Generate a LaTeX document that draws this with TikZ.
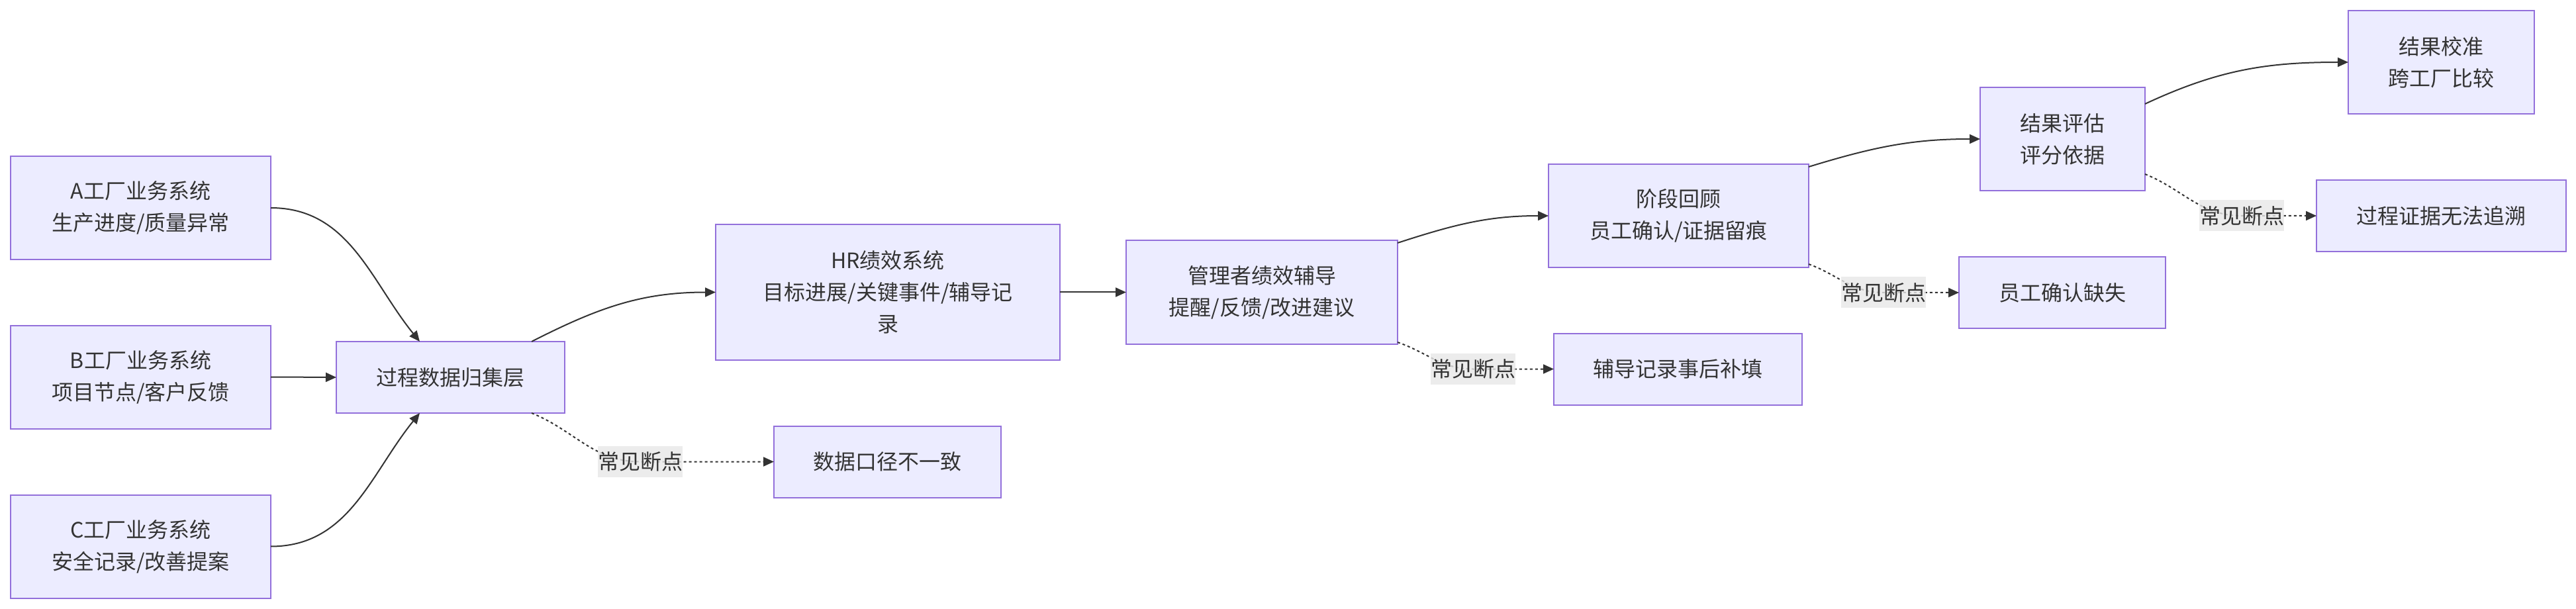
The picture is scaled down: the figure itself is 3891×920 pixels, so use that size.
\documentclass[tikz,border=0pt]{standalone}
\usepackage{fontspec}
\setmainfont{Noto Sans CJK SC}
\usetikzlibrary{arrows.meta}
\definecolor{nodefill}{HTML}{ECECFF}
\definecolor{nodeline}{HTML}{9370DB}
\definecolor{txt}{HTML}{333333}
\definecolor{lblbg}{HTML}{E8E8E8}
\begin{document}
\begin{tikzpicture}[x=0.25pt,y=0.25pt,
  box/.style 2 args={draw=nodeline, fill=nodefill, line width=0.5pt, inner sep=0pt, outer sep=0pt,
    minimum width=#1*0.25pt, minimum height=#2*0.25pt, align=center, text=txt,
    font=\fontsize{8pt}{12pt}\selectfont},
  lbl/.style={fill=lblbg, fill opacity=0.8, text opacity=1, inner sep=0pt, outer sep=0pt,
    minimum width=32pt, minimum height=11.75pt, text=txt, font=\fontsize{8pt}{12pt}\selectfont},
  edge/.style={draw=txt, line width=0.5pt, -{Triangle[length=4pt,width=3.5pt]}},
  dotedge/.style={edge, dash pattern=on 1pt off 1pt}]
\useasboundingbox (0,0) rectangle (3891,-920);
\fill[white] (0,0) rectangle (3891,-920);
% nodes
\node[box={393}{156}] (A) at (212.5,-314) {A工厂业务系统\\生产进度/质量异常};
\node[box={393}{156}] (B) at (212.5,-569.5) {B工厂业务系统\\项目节点/客户反馈};
\node[box={393}{156}] (C) at (212.5,-825.5) {C工厂业务系统\\安全记录/改善提案};
\node[box={345}{108}] (G) at (680.5,-570) {过程数据归集层};
\node[box={520}{205}] (H) at (1341,-441.5) {HR绩效系统\\目标进展/关键事件/辅导记\\录};
\node[box={343}{108}] (D) at (1340.5,-697.5) {数据口径不一致};
\node[box={410}{157}] (M) at (1906,-441.5) {管理者绩效辅导\\提醒/反馈/改进建议};
\node[box={375}{108}] (F) at (2534.5,-557.5) {辅导记录事后补填};
\node[box={393}{156}] (J) at (2535.5,-326) {阶段回顾\\员工确认/证据留痕};
\node[box={312}{108}] (Q) at (3115,-442) {员工确认缺失};
\node[box={249}{156}] (R) at (3115.5,-210) {结果评估\\评分依据};
\node[box={281}{156}] (K) at (3687.5,-94) {结果校准\\跨工厂比较};
\node[box={377}{108}] (P) at (3687.5,-326) {过程证据无法追溯};
% solid edges
\draw[edge] (A.east) to[out=0,in=129] ([xshift=-11.625pt]G.north);
\draw[edge] (B.east) -- (G.west);
\draw[edge] (C.east) to[out=0,in=231] ([xshift=-11.625pt]G.south);
\draw[edge] ([xshift=30.625pt]G.north) to[out=27,in=180] (H.west);
\draw[edge] (H.east) -- (M.west);
\draw[edge] ([yshift=-1pt]M.north east) to[out=18,in=180] (J.west);
\draw[edge] ([yshift=-1pt]J.north east) to[out=17,in=180] (R.west);
\draw[edge] ([yshift=-6.25pt]R.north east) to[out=25,in=180] (K.west);
% dotted edges with labels
\coordinate (l1c) at (967,-697.5);
\coordinate (l2c) at (2225,-557.5);
\coordinate (l3c) at (2845,-442);
\coordinate (l4c) at (3386,-326);
\draw[dotedge] ([xshift=30.625pt]G.south) to[out=-22,in=180] (l1c) -- (D.west);
\draw[dotedge] ([yshift=0.75pt]M.south east) to[out=-19,in=180] (l2c) -- (F.west);
\draw[dotedge] ([yshift=1.25pt]J.south east) to[out=-20,in=180] (l3c) -- (Q.west);
\draw[dotedge] ([yshift=6.25pt]R.south east) to[out=-22,in=180] (l4c) -- (P.west);
\node[lbl] (l1) at (l1c) {常见断点};
\node[lbl] (l2) at (l2c) {常见断点};
\node[lbl] (l3) at (l3c) {常见断点};
\node[lbl] (l4) at (l4c) {常见断点};
\end{tikzpicture}
\end{document}
